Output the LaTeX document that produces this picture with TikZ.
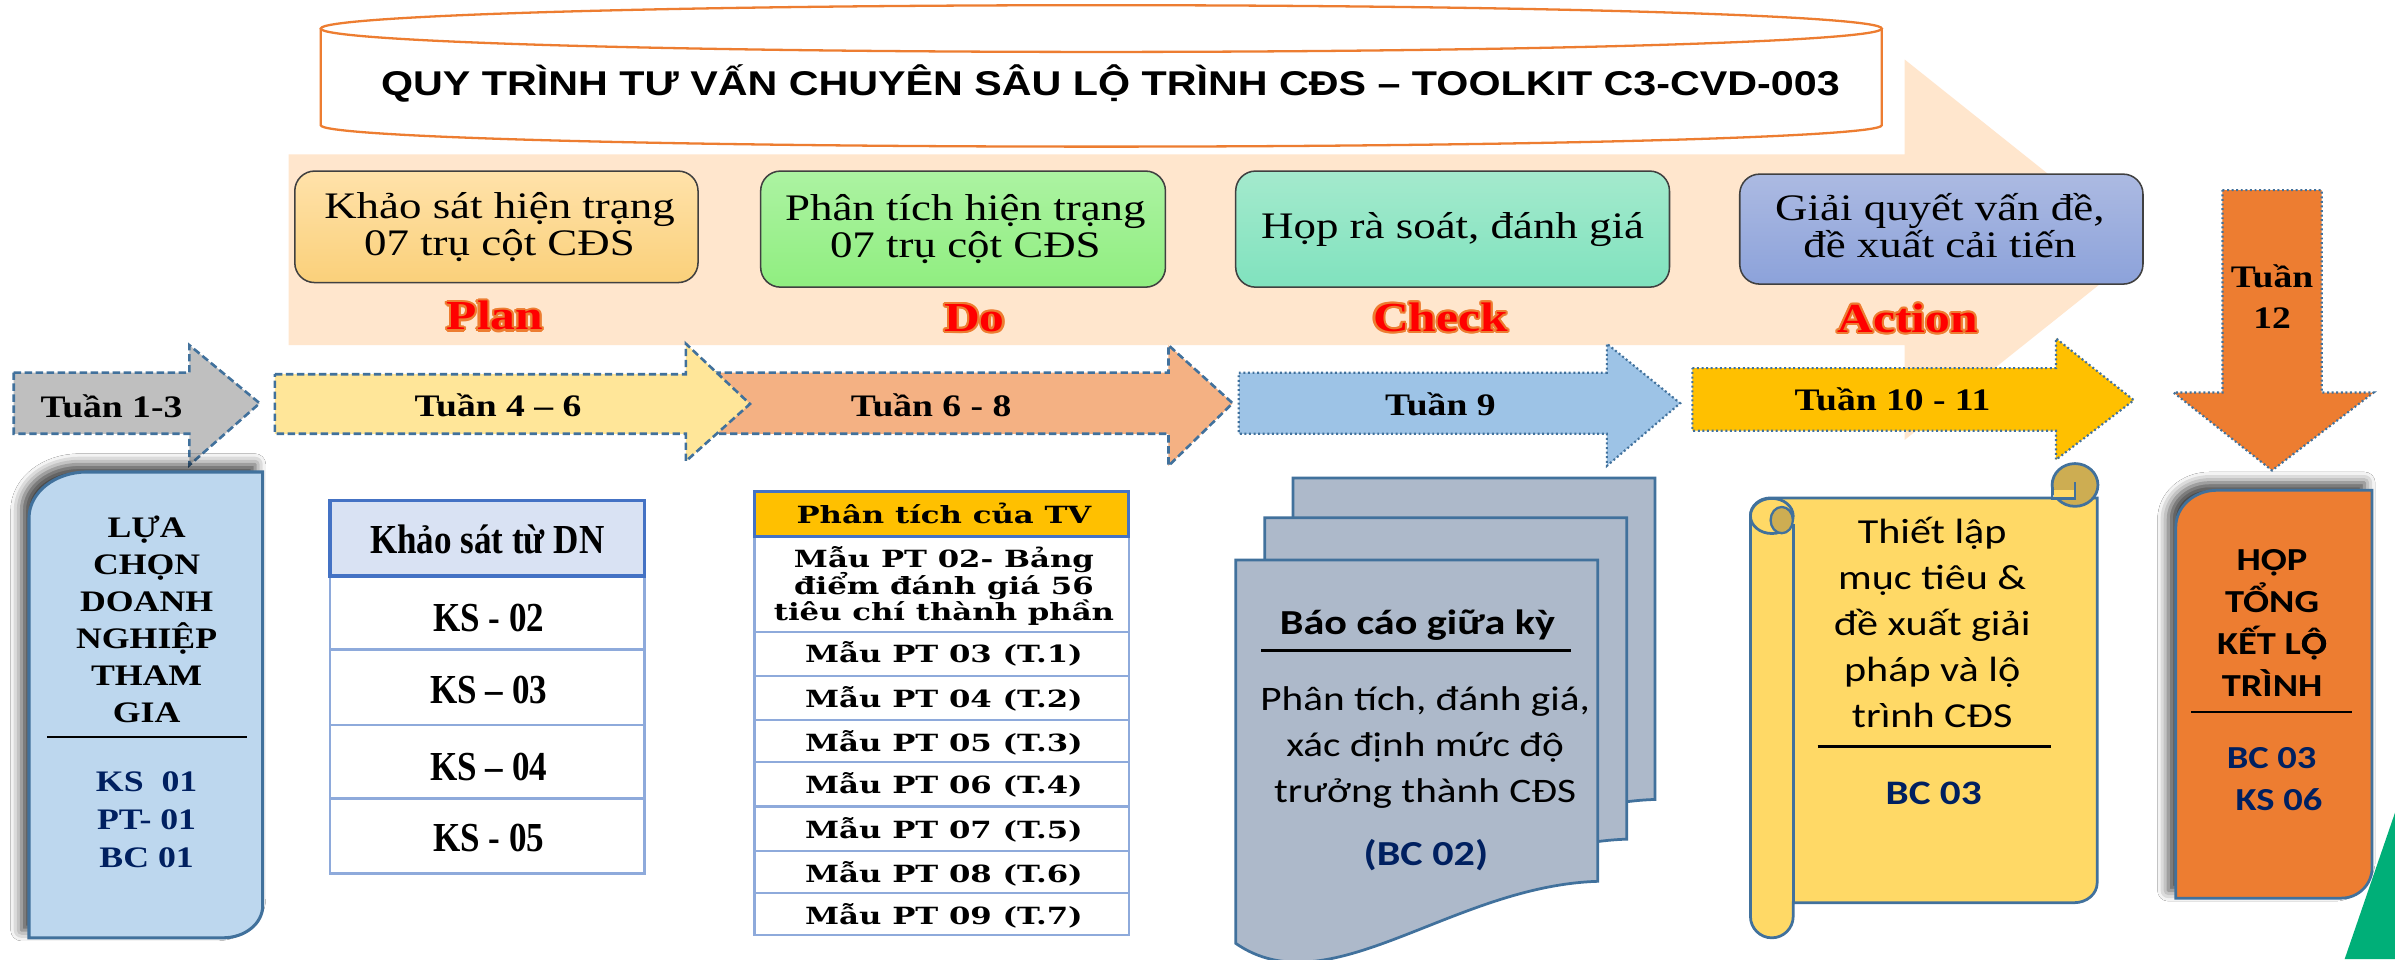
\documentclass[tikz,border=0pt]{standalone}
\usepackage{fontspec}
\setmainfont{Liberation Serif}
\newfontfamily\fTimes[FakeStretch=1.2]{Liberation Serif}
\newfontfamily\fTimesC[FakeStretch=0.85]{Liberation Serif}
\newfontfamily\fArial[FakeStretch=1.2]{Liberation Sans}
\newfontfamily\fCal[FakeStretch=1.2]{Carlito}
\newfontfamily\fDV[FakeStretch=1.3]{DejaVu Serif}
\usetikzlibrary{calc,shadows.blur}

\definecolor{peach}{RGB}{255,230,205}
\definecolor{bluebd}{RGB}{65,113,156}
\definecolor{cylor}{RGB}{237,125,49}
\definecolor{navy}{RGB}{0,32,96}
\definecolor{grayA}{RGB}{191,191,191}
\definecolor{yelA}{RGB}{255,230,153}
\definecolor{salA}{RGB}{244,177,131}
\definecolor{lblueA}{RGB}{157,195,230}
\definecolor{goldA}{RGB}{255,192,0}
\definecolor{orngA}{RGB}{237,125,49}
\definecolor{selblue}{RGB}{189,215,238}
\definecolor{hdrblue}{RGB}{217,226,243}
\definecolor{tblue}{RGB}{68,114,196}
\definecolor{tlblue}{RGB}{142,170,219}
\definecolor{docfill}{RGB}{173,185,202}
\definecolor{scrolly}{RGB}{255,217,102}
\definecolor{scrolld}{RGB}{205,173,82}
\definecolor{greentri}{RGB}{0,175,120}
\definecolor{pdcaor}{RGB}{237,125,49}
\definecolor{pAt}{RGB}{255,226,170}\definecolor{pAb}{RGB}{250,208,122}
\definecolor{pBt}{RGB}{172,243,162}\definecolor{pBb}{RGB}{144,238,128}
\definecolor{pCt}{RGB}{164,234,205}\definecolor{pCb}{RGB}{128,226,190}
\definecolor{pDt}{RGB}{172,186,226}\definecolor{pDb}{RGB}{140,162,218}

\tikzset{
  txt/.style={inner sep=0pt, anchor=base},
  titlefont/.style={txt, font=\fArial\bfseries\fontsize{22.5}{27}\selectfont},
  phasefont/.style={txt, font=\fTimes\fontsize{24.5}{28}\selectfont},
  pdcafont/.style={txt, font=\fTimes\bfseries\fontsize{27}{32}\selectfont},
  tuanfont/.style={txt, font=\fTimes\bfseries\fontsize{20.5}{24}\selectfont},
  selfont/.style={txt, font=\fTimes\bfseries\fontsize{19.5}{23}\selectfont},
  ksfont/.style={txt, font=\fTimesC\bfseries\fontsize{27}{32}\selectfont},
  ptfont/.style={txt, font=\fDV\bfseries\fontsize{15.5}{18}\selectfont},
  calreg/.style={txt, font=\fCal\fontsize{22.5}{27}\selectfont},
  calbold/.style={txt, font=\fCal\bfseries\fontsize{23}{27}\selectfont},
  phasebox/.style={draw=black!75, line width=1pt, rounded corners=13pt},
  dasharrow/.style={draw=bluebd, line width=1.7pt, dash pattern=on 4.8pt off 2.4pt, line join=miter},
  dotarrow/.style={draw=bluebd, line width=1.4pt, dash pattern=on 1.3pt off 1.7pt, line join=miter},
  tblhdr/.style={draw=tblue, line width=2.2pt},
  tblrow/.style={draw=tlblue, line width=1.8pt, fill=white},
  sep/.style={draw=black, line width=1.8pt},
  bdblue/.style={draw=bluebd, line width=1.8pt},
  boxshadow/.style={blur shadow={shadow xshift=-5pt, shadow yshift=5pt, shadow blur radius=7pt, shadow opacity=75}},
}

\newcommand\txtlines[6]{%
  \foreach \lntxt [count=\li from 0] in {#6} {
    \node[#2] (#1-\li) at (#3, {#4+\li*#5}) {\lntxt};
  }}
\newcommand\pdca[4]{%
  \foreach \ang in {0,30,...,330} {
    \node[pdcafont, text=pdcaor] (#1-o\ang) at ($(#2,#3)+(\ang:1.4)$) {#4};
  }
  \node[pdcafont, text=red] (#1) at (#2,#3) {#4};}

\begin{document}
\begin{tikzpicture}[x=1pt,y=-1pt]
\useasboundingbox (0,0) rectangle (1568,628);
\fill[white] (0,0) rectangle (1568,628);

% big background PDCA arrow
\fill[peach] (189,101) -- (1247,101) -- (1247,39) -- (1403,163.5) -- (1247,288) -- (1247,226) -- (189,226) -- cycle;

% title cylinder
\fill[white] (210,18.7) .. controls (210,10.25) and (438.8,3.4) .. (721,3.4) .. controls (1003.2,3.4) and (1232,10.25) .. (1232,18.7)
  -- (1232,82) .. controls (1232,89.7) and (1003.2,96) .. (721,96) .. controls (438.8,96) and (210,89.7) .. (210,82) -- cycle;
\draw[cylor, line width=1.5pt] (210,18.7) .. controls (210,10.25) and (438.8,3.4) .. (721,3.4) .. controls (1003.2,3.4) and (1232,10.25) .. (1232,18.7)
  .. controls (1232,27.15) and (1003.2,34) .. (721,34) .. controls (438.8,34) and (210,27.15) .. (210,18.7) -- cycle;
\draw[cylor, line width=1.5pt] (210,18.7) -- (210,82) .. controls (210,89.7) and (438.8,96) .. (721,96) .. controls (1003.2,96) and (1232,89.7) .. (1232,82) -- (1232,18.7);
\node[titlefont] (title) at (727,62.2) {QUY TRÌNH TƯ VẤN CHUYÊN SÂU LỘ TRÌNH CĐS – TOOLKIT C3-CVD-003};

% phase boxes
\path[phasebox, top color=pAt, bottom color=pAb] (193,112) rectangle (457,185);
\path[phasebox, top color=pBt, bottom color=pBb] (498,112) rectangle (763,188);
\path[phasebox, top color=pCt, bottom color=pCb] (809,112) rectangle (1093,188);
\path[phasebox, top color=pDt, bottom color=pDb] (1139,114) rectangle (1403,186);
\txtlines{ph1}{phasefont}{327}{143}{24}{Khảo sát hiện trạng, 07 trụ cột CĐS}
\txtlines{ph2}{phasefont}{632}{144.5}{24}{Phân tích hiện trạng, 07 trụ cột CĐS}
\node[phasefont] (ph3) at (951,156) {Họp rà soát, đánh giá};
\txtlines{ph4}{phasefont}{1270}{144.5}{24}{{Giải quyết vấn đề,}, đề xuất cải tiến}

\pdca{plan}{324}{216}{Plan}
\pdca{do}{638}{217}{Do}
\pdca{check}{943}{217}{Check}
\pdca{action}{1249}{217.8}{Action}

% timeline arrows
\path[dasharrow, fill=grayA] (9,244) -- (124,244) -- (124,226) -- (170,264) -- (124,304.5) -- (124,284) -- (9,284) -- cycle;
\path[dasharrow, fill=salA] (460,244) -- (765,244) -- (765,226) -- (807,264) -- (765,305) -- (765,284) -- (460,284) -- cycle;
\path[dasharrow, fill=yelA] (180,245) -- (449,245) -- (449,225) -- (491,264.5) -- (449,302) -- (449,284) -- (180,284) -- cycle;
\path[dotarrow, fill=lblueA] (811,244) -- (1052,244) -- (1052,225) -- (1100,264) -- (1052,305) -- (1052,284) -- (811,284) -- cycle;
\path[dotarrow, fill=goldA] (1108,241) -- (1346,241) -- (1346,221.5) -- (1397,262) -- (1346,301) -- (1346,282) -- (1108,282) -- cycle;
\path[dotarrow, fill=orngA] (1455,124.5) -- (1520,124.5) -- (1520,257) -- (1554,257) -- (1487.5,308) -- (1423,257) -- (1455,257) -- cycle;
\node[tuanfont] (t13) at (73,273.2) {Tuần 1-3};
\node[tuanfont] (t46) at (326,272.8) {Tuần 4 – 6};
\node[tuanfont] (t68) at (609.6,272.8) {Tuần 6 - 8};
\node[tuanfont] (t9) at (943,271.7) {Tuần 9};
\node[tuanfont] (t1011) at (1239,268.9) {Tuần 10 - 11};
\node[tuanfont] (t12a) at (1487.5,188) {Tuần};
\node[tuanfont] (t12b) at (1487.5,214.9) {12};

% B1 selection box
\path[boxshadow, fill=selblue, bdblue, line width=2pt] (19,614) -- (19,339) .. controls (19,322.4) and (36,309) .. (57,309) -- (172,309) -- (172,593) .. controls (172,604.6) and (160.4,614) .. (146,614) -- cycle;
\txtlines{sel}{selfont}{96}{351.8}{24.2}{LỰA, CHỌN, DOANH, NGHIỆP, THAM, GIA}
\draw[sep] (31,482.5) -- (162,482.5);
\txtlines{selc}{selfont, text=navy}{96}{518.3}{24.8}{KS\ \ 01, PT- 01, BC 01}

% B2 survey table
\path[tblrow] (216,377) rectangle (422,425);
\path[tblrow] (216,425) rectangle (422,474.7);
\path[tblrow] (216,474.7) rectangle (422,522.6);
\path[tblrow] (216,522.6) rectangle (422,572);
\path[tblhdr, fill=hdrblue] (216,327.5) rectangle (422,377);
\node[ksfont] (kshdr) at (319,362.7) {Khảo sát từ DN};
\node[ksfont] (ks2) at (320,413.6) {KS - 02};
\node[ksfont] (ks3) at (320,460.5) {KS – 03};
\node[ksfont] (ks4) at (320,510.7) {KS – 04};
\node[ksfont] (ks5) at (320,557.6) {KS - 05};

% B3 analysis table
\foreach \ya/\yb in {351/413.6, 413.6/442.6, 442.6/471.4, 471.4/499, 499/528, 528/557, 557/584.8, 584.8/612} {
  \path[tblrow, line width=1.6pt] (494,\ya) rectangle (739,\yb);
}
\path[tblhdr, line width=1.8pt, fill=goldA] (494,322) rectangle (739,351);
\node[ptfont] (pthdr) at (618,342.6) {Phân tích của TV};
\txtlines{pt2}{ptfont}{618}{371.4}{17.5}{Mẫu PT 02- Bảng, điểm đánh giá 56, tiêu chí thành phần}
\node[ptfont] (pt3) at (618,433.9) {Mẫu PT 03 (T.1)};
\node[ptfont] (pt4) at (618,463) {Mẫu PT 04 (T.2)};
\node[ptfont] (pt5) at (618,492.1) {Mẫu PT 05 (T.3)};
\node[ptfont] (pt6) at (618,519.4) {Mẫu PT 06 (T.4)};
\node[ptfont] (pt7) at (618,548.9) {Mẫu PT 07 (T.5)};
\node[ptfont] (pt8) at (618,577.9) {Mẫu PT 08 (T.6)};
\node[ptfont] (pt9) at (618,605) {Mẫu PT 09 (T.7)};

% B4 document stack
\foreach \dx/\dy in {37.5/-53.6, 19/-27.6, 0/0} {
  \begin{scope}[shift={(\dx,\dy)}]
    \path[bdblue, fill=docfill] (809,366.6) -- (1046,366.6) -- (1046,577) .. controls (950,580) and (870,660) .. (809,617.6) -- cycle;
  \end{scope}
}
\node[calbold] (bc2h) at (928,415.3) {Báo cáo giữa kỳ};
\draw[sep] (825.6,426) -- (1028.6,426);
\txtlines{bc2}{calreg}{933}{464.9}{30.3}{{Phân tích, đánh giá,}, xác định mức độ, trưởng thành CĐS}
\node[calbold, text=navy] (bc2c) at (933.5,566.4) {(BC 02)};

% B5 scroll
\path[bdblue, fill=scrolly] (1159,326) -- (1373,326) -- (1373,578) .. controls (1373,585.2) and (1366.3,591) .. (1358,591)
  -- (1174,591) -- (1174,600) .. controls (1174,607.7) and (1167.7,614) .. (1160,614) .. controls (1152.3,614) and (1146,607.7) .. (1146,600)
  -- (1146,337.5) .. controls (1146,331.1) and (1152,326) .. (1159,326) -- cycle;
\draw[bdblue] (1174,591) -- (1174,343);
\path[bdblue, fill=scrolly] (1160,337.8) ellipse [x radius=14, y radius=11.5];
\path[bdblue, line width=1.5pt, fill=scrolld] (1166.5,340.5) ellipse [x radius=7.3, y radius=8.6];
\path[bdblue, fill=scrolld] (1358.5,317.5) ellipse [x radius=15, y radius=14];
\fill[scrolly] (1344.6,321) rectangle (1357.6,327);
\draw[bdblue] (1343.5,318) -- (1343.5,326.3) -- (1358.5,326.3) -- (1358.5,315.3);
\txtlines{scr}{calreg, font=\fCal\fontsize{23}{27}\selectfont}{1265}{356}{30}{Thiết lập, mục tiêu \&, đề xuất giải, pháp và lộ, trình CĐS}
\draw[sep] (1190,488.5) -- (1343,488.5);
\node[calbold, font=\fCal\bfseries\fontsize{22.5}{27}\selectfont, text=navy] (scrbc) at (1266,526.4) {BC 03};

% green corner
\fill[greentri] (1568,532) -- (1535,628) -- (1568,628) -- cycle;

% B6 final meeting
\path[boxshadow, fill=orngA, bdblue] (1424.5,588) -- (1424.5,345) .. controls (1424.5,331.7) and (1436.6,321) .. (1451.5,321) -- (1553,321) -- (1553,568) .. controls (1553,579) and (1544,588) .. (1533,588) -- cycle;
\txtlines{fin}{calbold, font=\fCal\bfseries\fontsize{21}{25}\selectfont}{1487.5}{373.6}{27.5}{HỌP, TỔNG, KẾT L\rlap{Ô}Ọ, TRÌNH}
\draw[sep, line width=1.6pt] (1434.5,466) -- (1539.5,466);
\node[calbold, font=\fCal\bfseries\fontsize{21}{25}\selectfont, text=navy] (finbc) at (1487.2,503) {BC 03};
\node[calbold, font=\fCal\bfseries\fontsize{21}{25}\selectfont, text=navy] (finks) at (1492,530.8) {KS 06};
\end{tikzpicture}
\end{document}
